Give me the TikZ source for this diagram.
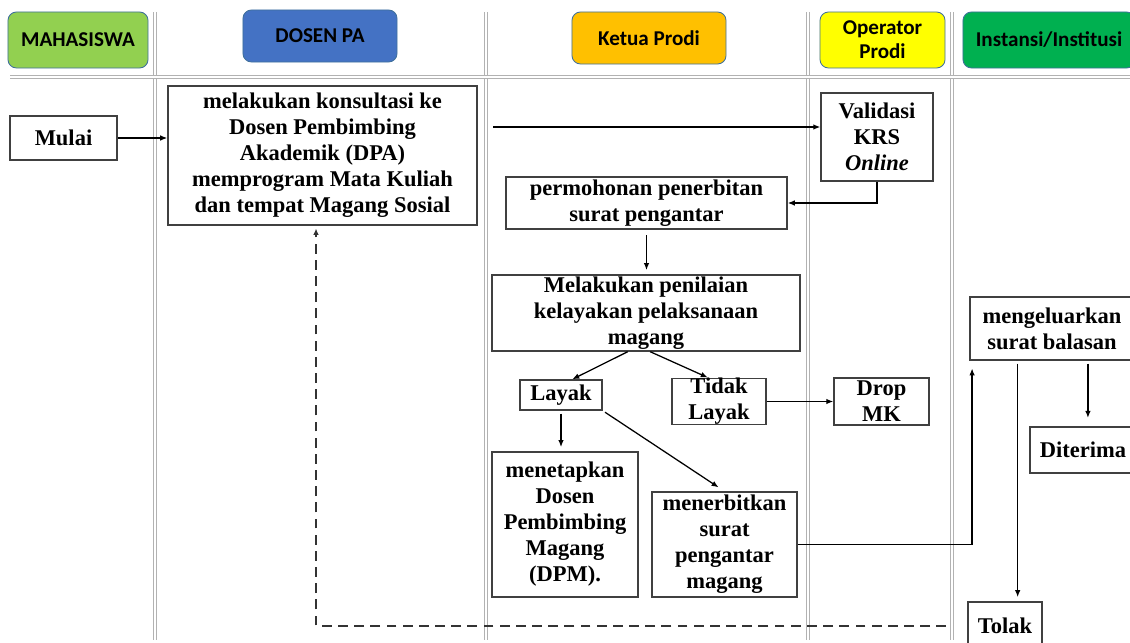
\documentclass[tikz,border=0pt]{standalone}
\usepackage{fontspec}
\setmainfont{Liberation Serif}
\newfontfamily\headfont{Carlito}
\usepackage{tikz}
\usetikzlibrary{arrows.meta,calc,positioning}
\definecolor{mhsgreen}{RGB}{146,208,80}
\definecolor{dpablue}{RGB}{68,114,196}
\definecolor{kaprodiorange}{RGB}{255,192,0}
\definecolor{opyellow}{RGB}{255,255,0}
\definecolor{instgreen}{RGB}{0,176,80}
\definecolor{headline}{RGB}{65,113,156}
\definecolor{boxline}{RGB}{64,64,64}
\tikzstyle{laneline}=[draw=gray!60,line width=0.7pt,double=white,double distance=1.2pt]
\tikzstyle{lanehead}=[draw=headline,line width=0.6pt,rounded corners=6pt,align=center,inner sep=0pt,font=\headfont\bfseries\fontsize{15}{17}\selectfont]
\tikzstyle{procbox}=[draw=boxline,line width=1pt,align=center,inner sep=0pt,font=\bfseries\fontsize{16}{18.5}\selectfont]
\tikzstyle{flowarrow}=[-{Latex[length=5pt,width=4pt]},line width=0.9pt]
\tikzstyle{returnarrow}=[-{Latex[length=4.5pt,width=4pt]},dash pattern=on 7pt off 4.5pt,line width=1.6pt,draw=black!80]

\begin{document}
\begin{tikzpicture}[x=0.025cm,y=-0.025cm]
    \useasboundingbox (0,0) rectangle (1130,643);
    \clip (0,0) rectangle (1130,643);
    % swimlanes
    \foreach \xl in {155,486,808,952}
        \draw[laneline] (\xl,12) -- (\xl,640);
    \draw[laneline] (10,77) -- (1135,77);
    % lane heads
    \node[lanehead,fill=mhsgreen,minimum width=3.5cm,minimum height=1.4cm] (mhs) at (78,40) {MAHASISWA};
    \node[lanehead,fill=dpablue,minimum width=3.85cm,minimum height=1.3cm] (dpa) at (320,36) {DOSEN PA};
    \node[lanehead,fill=kaprodiorange,minimum width=3.85cm,minimum height=1.3cm] (kaprodi) at (649,38) {Ketua Prodi};
    \node[lanehead,fill=opyellow,minimum width=3.125cm,minimum height=1.4cm] (operator) at (882.5,40) {Operator\\Prodi};
    \node[lanehead,fill=instgreen,minimum width=4.3cm,minimum height=1.4cm] (instansi) at (1049,40) {Instansi/Institusi};
    % steps
    \node[procbox,minimum width=2.675cm,minimum height=1.1cm] (mulai) at (63.5,138) {Mulai};
    \node[procbox,minimum width=7.725cm,minimum height=3.475cm] (konsul) at (322.5,155.5) {melakukan konsultasi ke\\Dosen Pembimbing\\Akademik (DPA)\\memprogram Mata Kuliah\\dan tempat Magang Sosial};
    \node[procbox,minimum width=2.8cm,minimum height=2.2cm] (validasi) at (877,137) {Validasi\\KRS\\\textit{Online}};
    \node[procbox,minimum width=7.025cm,minimum height=1.3cm] (mohon) at (646.5,203) {permohonan penerbitan\\surat pengantar};
    \node[procbox,minimum width=7.7cm,minimum height=1.9cm] (nilai) at (646,313) {Melakukan penilaian\\kelayakan pelaksanaan\\magang};
    \node[procbox,minimum width=2.05cm,minimum height=0.75cm] (layak) at (561,395) {Layak};
    \node[procbox,minimum width=2.35cm,minimum height=1.125cm] (tidak) at (719,401.5) {Tidak\\Layak};
    \node[procbox,minimum width=2.375cm,minimum height=1.175cm] (drop) at (881.5,401.5) {Drop\\MK};
    \node[procbox,minimum width=3.65cm,minimum height=3.625cm] (tetap) at (565,524.5) {menetapkan\\Dosen\\Pembimbing\\Magang\\(DPM).};
    \node[procbox,minimum width=3.625cm,minimum height=2.625cm] (terbit) at (724.5,544.5) {menerbitkan\\surat\\pengantar\\magang};
    \node[procbox,minimum width=4.1cm,minimum height=1.575cm] (keluar) at (1052,328.5) {mengeluarkan\\surat balasan};
    \node[procbox,minimum width=2.65cm,minimum height=1.15cm] (terima) at (1083,450) {Diterima};
    \node[procbox,minimum width=1.85cm,minimum height=1.2cm] (tolak) at (1005,626) {Tolak};
    % connectors
    \draw[flowarrow] (mulai.east) -- (mulai.east -| konsul.west);
    \draw[flowarrow,shorten <=11pt] (konsul.east |- validasi.170) -- (validasi.170);
    \draw[flowarrow] (validasi.south) |- (mohon.east);
    \draw[flowarrow,shorten <=4pt,shorten >=3pt] (mohon.south) -- (mohon.south |- nilai.north);
    \draw[flowarrow] ([xshift=-13pt]nilai.south) -- ([xshift=8pt]layak.north);
    \draw[flowarrow] ([xshift=3pt]nilai.south) -- ([xshift=-8pt]tidak.north);
    \draw[flowarrow] (tidak.east) -- (drop.west);
    \draw[flowarrow,shorten <=2pt,shorten >=3pt] (layak.south) -- (layak.south |- tetap.north);
    \draw[flowarrow,shorten <=2pt,shorten >=5pt] (layak.south east) -- (terbit.north);
    \draw[flowarrow,shorten >=5.5pt] (terbit.east) -| ([xshift=2pt]keluar.south west);
    \draw[flowarrow,shorten <=2pt,shorten >=6pt] ([xshift=3.5pt]terima.north |- keluar.south) -- ([xshift=3.5pt]terima.north);
    \draw[flowarrow,shorten <=2pt,shorten >=3pt] ([xshift=9pt]tolak.north |- keluar.south) -- ([xshift=9pt]tolak.north);
    \draw[returnarrow,shorten <=15pt] (tolak.west) -| ([xshift=-4.6pt,yshift=-2pt]konsul.south);
\end{tikzpicture}
\end{document}
